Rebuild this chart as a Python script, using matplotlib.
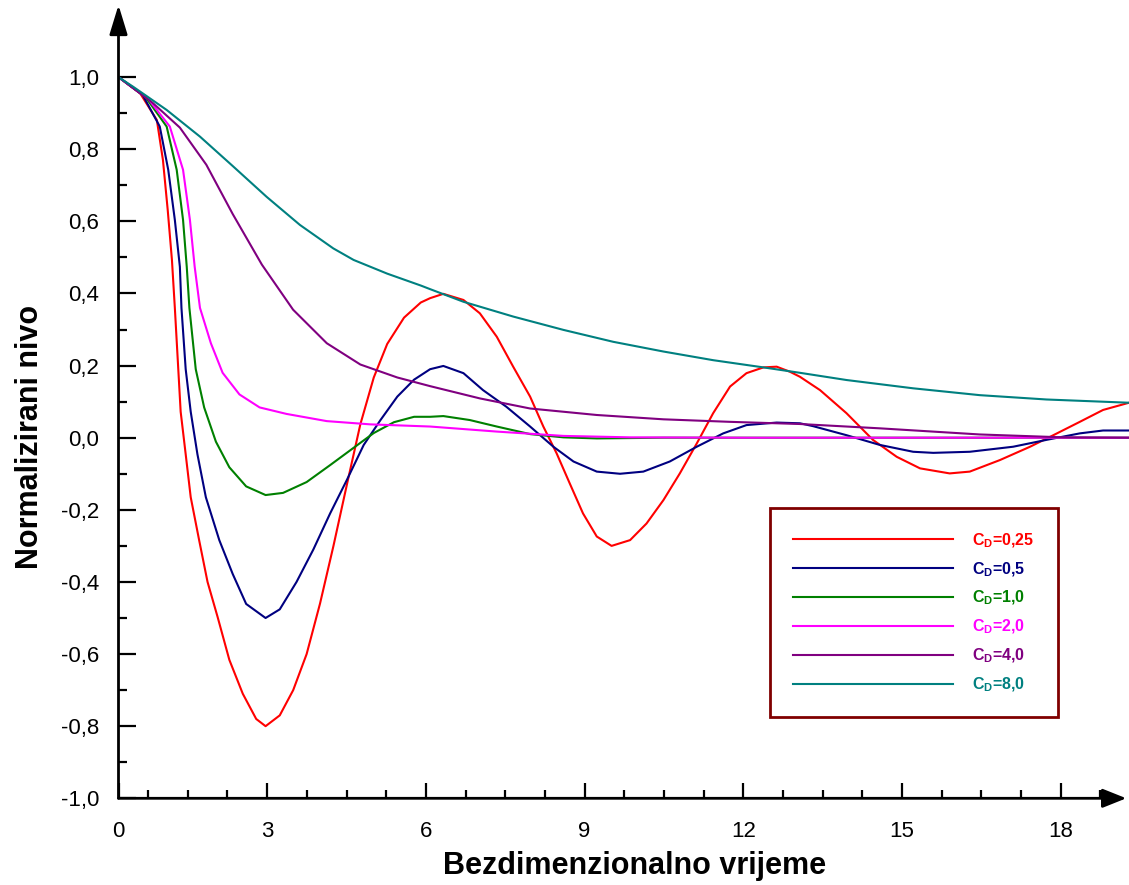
import numpy as np
import matplotlib
matplotlib.use("Agg")
import matplotlib.pyplot as plt

plt.rcParams['font.family'] = ['Liberation Sans', 'DejaVu Sans']
plt.rcParams['mathtext.fontset'] = 'custom'
plt.rcParams['mathtext.rm'] = 'Liberation Sans'
plt.rcParams['mathtext.bf'] = 'Liberation Sans:bold'
plt.rcParams['mathtext.it'] = 'Liberation Sans:italic'

# ---------------- data ----------------
x_start = 0.19   # time value at the vertical axis (labelled "0")

red_x = [0.19, 0.6, 0.915, 1.03, 1.12, 1.2, 1.255, 1.365, 1.46, 1.555, 1.714, 1.873,
         2.063, 2.285, 2.539, 2.793, 2.97, 3.238, 3.492, 3.746, 3.999, 4.253, 4.507, 4.761, 5.015,
         5.269, 5.587, 5.904, 6.08, 6.33, 6.71, 7.02, 7.34, 7.65, 7.97, 8.22, 8.47, 8.72, 8.97, 9.23,
         9.51, 9.86, 10.17, 10.49, 10.8, 11.12, 11.43, 11.75, 12.06, 12.38, 12.63, 12.88, 13.07, 13.45,
         13.95, 14.45, 14.9, 15.34, 15.9, 16.28, 16.85, 17.42, 17.86, 18.36, 18.8, 19.29]
red_y = [1.0, 0.955, 0.881, 0.77, 0.632, 0.493, 0.36, 0.072, -0.046, -0.165, -0.284, -0.40,
         -0.497, -0.616, -0.71, -0.78, -0.80, -0.77, -0.70, -0.60, -0.46, -0.30, -0.13, 0.037, 0.167,
         0.26, 0.333, 0.375, 0.387, 0.399, 0.382, 0.345, 0.28, 0.197, 0.114, 0.031, -0.043, -0.127,
         -0.21, -0.274, -0.30, -0.284, -0.238, -0.173, -0.099, -0.016, 0.068, 0.142, 0.179, 0.195,
         0.197, 0.183, 0.169, 0.132, 0.068, -0.006, -0.053, -0.085, -0.099, -0.094, -0.062, -0.025,
         0.007, 0.044, 0.077, 0.097]

blue_x = [0.19, 0.65, 0.97, 1.13, 1.255, 1.35, 1.38, 1.46, 1.555, 1.682, 1.841, 2.095, 2.349,
          2.603, 2.97, 3.238, 3.555, 3.873, 4.19, 4.507, 4.825, 5.142, 5.46, 5.777, 6.08, 6.33, 6.71,
          7.08, 7.52, 7.97, 8.41, 8.79, 9.23, 9.67, 10.11, 10.61, 11.12, 11.62, 12.06, 12.63, 13.07,
          13.32, 13.95, 14.58, 15.21, 15.59, 16.28, 17.1, 17.73, 18.36, 18.8, 19.29]
blue_y = [1.0, 0.95, 0.863, 0.743, 0.604, 0.474, 0.36, 0.19, 0.072, -0.046, -0.165, -0.284, -0.378,
          -0.461, -0.50, -0.476, -0.40, -0.31, -0.21, -0.117, -0.02, 0.049, 0.114, 0.161, 0.19, 0.199,
          0.179, 0.132, 0.086, 0.031, -0.025, -0.066, -0.094, -0.10, -0.094, -0.066, -0.025, 0.012,
          0.035, 0.042, 0.04, 0.032, 0.007, -0.020, -0.039, -0.042, -0.039, -0.025, -0.006, 0.012,
          0.02, 0.02]

green_x = [0.19, 0.7, 1.1, 1.29, 1.41, 1.48, 1.53, 1.65, 1.809, 2.031, 2.285, 2.603, 2.97,
           3.301, 3.746, 4.19, 4.634, 5.015, 5.396, 5.777, 6.08, 6.33, 6.83, 7.34, 7.97, 8.6, 9.23,
           10.5, 19.29]
green_y = [1.0, 0.945, 0.863, 0.743, 0.604, 0.474, 0.36, 0.19, 0.084, -0.011, -0.082, -0.135, -0.159,
           -0.153, -0.123, -0.076, -0.028, 0.013, 0.043, 0.058, 0.058, 0.06, 0.049, 0.031, 0.01,
           0.001, -0.002, 0.0, 0.0]

pink_x = [0.19, 0.75, 1.16, 1.41, 1.54, 1.63, 1.73, 1.936, 2.158, 2.476, 2.857, 3.365, 4.127,
          4.952, 6.08, 7.34, 8.6, 9.86, 12.0, 19.29]
pink_y = [1.0, 0.94, 0.863, 0.743, 0.604, 0.474, 0.36, 0.262, 0.18, 0.12, 0.084, 0.066, 0.046, 0.037,
          0.031, 0.017, 0.005, 0.001, 0.0, 0.0]

purple_x = [0.19, 0.825, 1.35, 1.85, 2.35, 2.9, 3.49, 4.127, 4.761, 5.46, 6.08, 7.02, 7.97,
            9.23, 10.49, 11.75, 13.07, 14.58, 16.47, 18.05, 19.29]
purple_y = [1.0, 0.93, 0.86, 0.757, 0.62, 0.48, 0.355, 0.262, 0.203, 0.167, 0.143, 0.109, 0.081,
            0.063, 0.051, 0.044, 0.038, 0.026, 0.009, 0.001, 0.0]

teal_x = [0.19, 0.47, 1.1, 1.73, 2.36, 2.99, 3.62, 4.25, 4.634, 5.269, 5.904, 6.08, 6.71, 7.65, 8.6,
          9.54, 10.49, 11.43, 12.38, 13.07, 13.95, 15.21, 16.47, 17.73, 19.29]
teal_y = [1.0, 0.973, 0.909, 0.835, 0.752, 0.668, 0.59, 0.525, 0.493, 0.455, 0.422, 0.412, 0.377, 0.336,
          0.299, 0.266, 0.239, 0.215, 0.195, 0.18, 0.16, 0.137, 0.118, 0.106, 0.097]

series_labels = [r'$\mathbf{C_D}$=0,25', r'$\mathbf{C_D}$=0,5', r'$\mathbf{C_D}$=1,0',
                 r'$\mathbf{C_D}$=2,0', r'$\mathbf{C_D}$=4,0', r'$\mathbf{C_D}$=8,0']
series_colors = ['#FF0000', '#000080', '#008000', '#FF00FF', '#800080', '#008080']

x_major = [x_start, 3, 6, 9, 12, 15, 18]
x_ticklabels = ['0', '3', '6', '9', '12', '15', '18']
y_major = [-1.0, -0.8, -0.6, -0.4, -0.2, 0.0, 0.2, 0.4, 0.6, 0.8, 1.0]
y_ticklabels = ['-1,0', '-0,8', '-0,6', '-0,4', '-0,2', '0,0', '0,2', '0,4', '0,6', '0,8', '1,0']

# ---------------- figure ----------------
W, H = 1129, 885
fig = plt.figure(figsize=(W / 100, H / 100), dpi=100)
ax = fig.add_axes([118.5 / W, (H - 798.3) / H, (W - 118.5) / W, (798.3 - 5) / H])

all_x = [red_x, blue_x, green_x, pink_x, purple_x, teal_x]
all_y = [red_y, blue_y, green_y, pink_y, purple_y, teal_y]
for xs, ys, lab, col in zip(all_x, all_y, series_labels, series_colors):
    ax.plot(xs, ys, color=col, lw=1.5, label=lab, solid_joinstyle='round')

ax.set_xlim(x_start, 19.29)
ax.set_ylim(-1.0, 1.2)

for s in ax.spines.values():
    s.set_visible(False)

# axes with arrow heads
ax.annotate('', xy=(0, 1), xytext=(0, 0), xycoords='axes fraction', textcoords='axes fraction',
            arrowprops=dict(arrowstyle='-|>,head_length=1.8,head_width=0.55', lw=2, color='k',
                            mutation_scale=10, shrinkA=0, shrinkB=0), annotation_clip=False)
ax.annotate('', xy=(0.9973, 0), xytext=(0, 0), xycoords='axes fraction', textcoords='axes fraction',
            arrowprops=dict(arrowstyle='-|>,head_length=1.45,head_width=0.58', lw=2, color='k',
                            mutation_scale=10, shrinkA=0, shrinkB=0), annotation_clip=False)

ax.set_xticks(x_major)
ax.set_xticklabels(x_ticklabels)
ax.set_xticks([v for v in np.arange(0.75, 19.0, 0.75) if abs(v / 3 - round(v / 3)) > 1e-6], minor=True)
ax.set_yticks(y_major)
ax.set_yticklabels(y_ticklabels)
ax.set_yticks(np.arange(-0.9, 1.0, 0.2), minor=True)

ax.tick_params(axis='both', which='both', direction='in', width=1.6, color='k')
ax.tick_params(axis='y', which='major', length=12, pad=14, labelsize=16)
ax.tick_params(axis='y', which='minor', length=6)
ax.tick_params(axis='x', which='major', length=11, pad=16, labelsize=16)
ax.tick_params(axis='x', which='minor', length=5.5)

ax.set_xlabel('Bezdimenzionalno vrijeme', fontsize=22, fontweight='bold')
ax.set_ylabel('Normalizirani nivo', fontsize=22, fontweight='bold')
ax.xaxis.set_label_coords(0.5106, -0.067)
ax.yaxis.set_label_coords(-0.0727, 0.4554)

leg = ax.legend(loc='upper left', bbox_to_anchor=(770 / W, 1 - 508 / H), bbox_transform=fig.transFigure,
                borderaxespad=0, frameon=True, fancybox=False, framealpha=1, edgecolor='#800000',
                labelcolor='linecolor', prop={'family': 'Liberation Sans', 'weight': 'bold', 'size': 11.5},
                handlelength=10.0, handletextpad=1.2, labelspacing=0.66, borderpad=1.45)
leg.get_frame().set_linewidth(2)

fig.savefig('out.png', dpi=100, facecolor='white')
